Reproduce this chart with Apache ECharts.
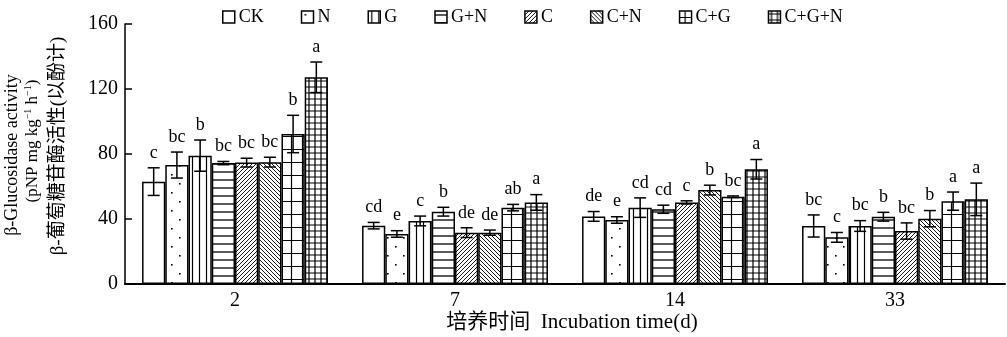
<!DOCTYPE html>
<html>
<head>
<meta charset="utf-8">
<script src="https://cdn.jsdelivr.net/npm/echarts@6/dist/echarts.min.js"></script>
<style>html,body{margin:0;padding:0;background:#fff}#c{width:1007px;height:337px}</style>
</head>
<body>
<div id="c"></div>
<script>
const categories = ['2', '7', '14', '33'];
const treatments = ['CK', 'N', 'G', 'G+N', 'C', 'C+N', 'C+G', 'C+G+N'];
const yTicks = [0, 40, 80, 120, 160];

const valCK   = [63.0, 35.9, 41.6, 35.7];
const valN    = [73.2, 30.8, 39.4, 28.7];
const valG    = [79.0, 38.8, 47.0, 35.7];
const valGN   = [74.4, 44.5, 46.0, 41.4];
const valC    = [74.7, 31.6, 50.2, 32.6];
const valCN   = [75.0, 31.6, 57.8, 40.2];
const valCG   = [92.3, 47.0, 53.7, 51.0];
const valCGN  = [127.2, 50.2, 70.6, 52.1];

const errCK   = [8.5, 2.0, 3.0, 6.8];
const errN    = [8.0, 2.0, 2.0, 3.0];
const errG    = [9.6, 3.0, 6.0, 3.3];
const errGN   = [1.0, 2.7, 2.5, 2.7];
const errC    = [2.7, 3.0, 1.0, 5.0];
const errCN   = [3.0, 1.6, 3.0, 5.0];
const errCG   = [11.5, 2.0, 0.5, 5.6];
const errCGN  = [9.4, 4.8, 6.0, 10.0];

const letCK   = ['c', 'cd', 'de', 'bc'];
const letN    = ['bc', 'e', 'e', 'c'];
const letG    = ['b', 'c', 'cd', 'bc'];
const letGN   = ['bc', 'b', 'cd', 'b'];
const letC    = ['bc', 'de', 'c', 'bc'];
const letCN   = ['bc', 'de', 'b', 'b'];
const letCG   = ['b', 'ab', 'bc', 'a'];
const letCGN  = ['a', 'a', 'a', 'a'];

const values = [valCK, valN, valG, valGN, valC, valCN, valCG, valCGN];
const errors = [errCK, errN, errG, errGN, errC, errCN, errCG, errCGN];
const letters = [letCK, letN, letG, letGN, letC, letCN, letCG, letCGN];

const FONT = '"Liberation Serif", "Times New Roman", "Noto Sans CJK SC", serif';

function pattern(w, h, draw) {
  const c = document.createElement('canvas');
  c.width = w; c.height = h;
  const g = c.getContext('2d');
  g.fillStyle = '#fff'; g.fillRect(0, 0, w, h);
  g.strokeStyle = '#000'; g.fillStyle = '#000';
  draw(g, w, h);
  return { image: c, repeat: 'repeat' };
}
const fills = [
  '#ffffff',
  pattern(16, 18, (g) => { g.fillRect(3, 3, 1.6, 1.6); g.fillRect(11, 12, 1.6, 1.6); }),
  pattern(7, 4, (g) => { g.lineWidth = 1.2; g.beginPath(); g.moveTo(3.5, 0); g.lineTo(3.5, 4); g.stroke(); }),
  pattern(4, 8, (g) => { g.lineWidth = 1.3; g.beginPath(); g.moveTo(0, 4); g.lineTo(4, 4); g.stroke(); }),
  pattern(4, 4, (g) => { g.lineWidth = 0.9; g.beginPath(); g.moveTo(-1, 1); g.lineTo(1, -1); g.moveTo(0, 4); g.lineTo(4, 0); g.moveTo(3, 5); g.lineTo(5, 3); g.stroke(); }),
  pattern(4, 4, (g) => { g.lineWidth = 0.9; g.beginPath(); g.moveTo(-1, 3); g.lineTo(1, 5); g.moveTo(0, 0); g.lineTo(4, 4); g.moveTo(3, -1); g.lineTo(5, 1); g.stroke(); }),
  pattern(11, 13, (g) => { g.lineWidth = 1.2; g.beginPath(); g.moveTo(5.5, 0); g.lineTo(5.5, 13); g.moveTo(0, 6.5); g.lineTo(11, 6.5); g.stroke(); }),
  pattern(6, 6, (g) => { g.lineWidth = 1.2; g.beginPath(); g.moveTo(3, 0); g.lineTo(3, 6); g.moveTo(0, 3); g.lineTo(6, 3); g.stroke(); })
];

const CAT_GAP = 0.155;
const series = treatments.map((name, i) => ({
  name: name,
  type: 'bar',
  data: values[i],
  barGap: '0%',
  barCategoryGap: (CAT_GAP * 100) + '%',
  itemStyle: { color: fills[i], borderColor: '#000', borderWidth: 1.5 },
  emphasis: { disabled: true },
  silent: true
}));

const errData = [];
treatments.forEach((t, i) => {
  categories.forEach((c, j) => {
    errData.push([j, values[i][j], errors[i][j], i]);
  });
});
series.push({
  type: 'custom',
  name: 'err',
  data: errData,
  silent: true,
  z: 10,
  encode: { x: 0, y: 1 },
  renderItem: function (params, api) {
    const cat = api.value(0), v = api.value(1), e = api.value(2), idx = api.value(3);
    const band = api.size([1, 0])[0];
    const group = band * (1 - CAT_GAP);
    const bw = group / treatments.length;
    const cx = api.coord([cat, 0])[0] - group / 2 + bw * (idx + 0.5);
    const yTop = api.coord([cat, v + e])[1];
    const yBot = api.coord([cat, v - e])[1];
    const cap = 6;
    const ls = { stroke: '#000', lineWidth: 1.5 };
    const letter = letters[idx][cat];
    return {
      type: 'group',
      children: [
        { type: 'line', shape: { x1: cx, y1: yTop, x2: cx, y2: yBot }, style: ls },
        { type: 'line', shape: { x1: cx - cap, y1: yTop, x2: cx + cap, y2: yTop }, style: ls },
        { type: 'line', shape: { x1: cx - cap, y1: yBot, x2: cx + cap, y2: yBot }, style: ls },
        { type: 'text', x: cx, y: yTop - 6, style: { text: letter, fill: '#000', font: '18px ' + FONT, textAlign: 'center', textVerticalAlign: 'bottom' } }
      ]
    };
  }
});

const chart = echarts.init(document.getElementById('c'), null, { renderer: 'canvas' });
chart.setOption({
  animation: false,
  backgroundColor: '#fff',
  grid: { left: 125, right: 2, top: 24, bottom: 53, containLabel: false },
  legend: {
    data: treatments,
    left: 217, top: 3,
    itemWidth: 12, itemHeight: 12, itemGap: 37,
    icon: 'rect',
    textStyle: { fontFamily: FONT, fontSize: 18, color: '#000', padding: [0, 0, 0, -1] },
    itemStyle: { borderColor: '#000', borderWidth: 1.5 },
    selectedMode: false
  },
  xAxis: {
    type: 'category',
    data: categories,
    axisLine: { lineStyle: { color: '#000', width: 2 } },
    axisTick: { inside: true, length: 6, lineStyle: { color: '#000', width: 1.5 } },
    axisLabel: { color: '#000', fontFamily: FONT, fontSize: 20, margin: 7 }
  },
  yAxis: {
    type: 'value',
    min: yTicks[0], max: yTicks[yTicks.length - 1], interval: 40,
    axisLine: { show: true, lineStyle: { color: '#000', width: 1.5 } },
    axisTick: { show: true, inside: true, length: 7, lineStyle: { color: '#000', width: 1.5 } },
    splitLine: { show: false },
    axisLabel: { color: '#000', fontFamily: FONT, fontSize: 20, margin: 7 }
  },
  graphic: [
    { type: 'text', x: 12, y: 155, rotation: Math.PI / 2, style: { text: 'β-Glucosidase activity', font: '18px ' + FONT, fill: '#000', textAlign: 'center', textVerticalAlign: 'middle' } },
    { type: 'text', x: 32, y: 141, rotation: Math.PI / 2, style: {
      text: '{n|(pNP mg kg}{s|−1}{n| h}{s|−1}{n|)}',
      textAlign: 'center', textVerticalAlign: 'middle',
      rich: {
        n: { fontFamily: FONT, fontSize: 17, fill: '#000', lineHeight: 18, verticalAlign: 'bottom' },
        s: { fontFamily: FONT, fontSize: 10, fill: '#000', lineHeight: 18, verticalAlign: 'top' }
      }
    } },
    { type: 'text', x: 58, y: 146, rotation: Math.PI / 2, style: { text: 'β-葡萄糖苷酶活性(以酚计)', font: '19px ' + FONT, fill: '#000', textAlign: 'center', textVerticalAlign: 'middle' } },
    { type: 'text', x: 572, y: 322, style: { text: '培养时间  Incubation time(d)', font: '21px ' + FONT, fill: '#000', textAlign: 'center', textVerticalAlign: 'middle' } }
  ],
  series: series
});
</script>
</body>
</html>
